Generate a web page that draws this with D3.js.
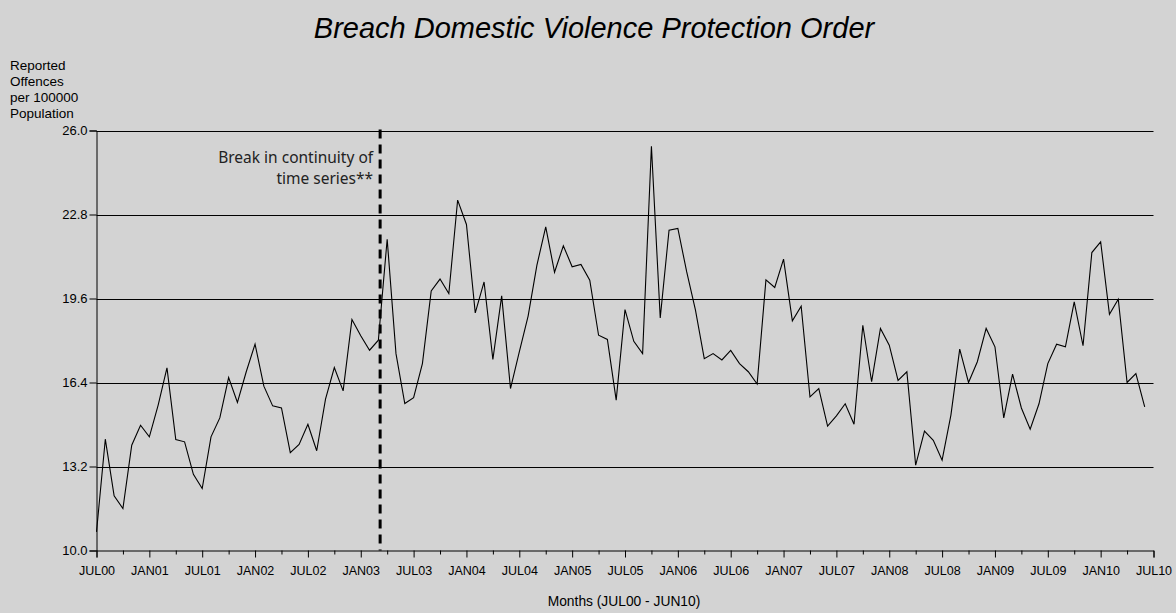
<!DOCTYPE html>
<html>
<head>
<meta charset="utf-8">
<script src="https://cdn.jsdelivr.net/npm/d3@7"></script>
<style>
  html, body { margin: 0; padding: 0; background: #d3d3d3; }
  svg { display: block; }
</style>
</head>
<body>
<svg id="chart" width="1176" height="613"></svg>
<script>
// ---- Data ----
const title = "Breach Domestic Violence Protection Order";
const yAxisTitle = ["Reported", "Offences", "per 100000", "Population"];
const xAxisTitle = "Months (JUL00 - JUN10)";
const breakLabel = ["Break in continuity of", "time series**"];

// Monthly values, JUL00 .. JUN10 (120 months)
const values = [
  10.71, 14.24, 12.08, 11.60, 14.01, 14.77, 14.33, 15.54, 16.96, 14.23, 14.14, 12.90,
  12.36, 14.33, 15.05, 16.59, 15.64, 16.81, 17.86, 16.26, 15.51, 15.43, 13.73, 14.04,
  14.81, 13.80, 15.77, 16.97, 16.08, 18.80, 18.18, 17.63, 18.01, 21.86, 17.50, 15.60,
  15.82, 17.12, 19.89, 20.34, 19.79, 23.35, 22.42, 19.05, 20.23, 17.28, 19.70, 16.17,
  17.57, 18.93, 20.87, 22.33, 20.60, 21.61, 20.81, 20.90, 20.30, 18.20, 18.04, 15.73,
  19.18, 17.97, 17.50, 25.40, 18.86, 22.20, 22.27, 20.62, 19.16, 17.31, 17.50, 17.26,
  17.62, 17.12, 16.81, 16.34, 20.31, 20.02, 21.10, 18.75, 19.31, 15.85, 16.17, 14.74,
  15.13, 15.59, 14.81, 18.58, 16.43, 18.46, 17.82, 16.48, 16.81, 13.25, 14.55, 14.20,
  13.44, 15.16, 17.67, 16.40, 17.19, 18.46, 17.76, 15.05, 16.72, 15.43, 14.62, 15.59,
  17.12, 17.86, 17.76, 19.47, 17.80, 21.35, 21.76, 19.00, 19.57, 16.40, 16.74, 15.47
];

const yTicks = [10.0, 13.2, 16.4, 19.6, 22.8, 26.0];
const xTickLabels = ["JUL00","JAN01","JUL01","JAN02","JUL02","JAN03","JUL03","JAN04","JUL04","JAN05",
                     "JUL05","JAN06","JUL06","JAN07","JUL07","JAN08","JUL08","JAN09","JUL09","JAN10","JUL10"];
const breakMonth = 32.2; // between MAR03 and APR03

// ---- Layout ----
const svg = d3.select("#chart");
const L = 96.5, R = 1153.5, T = 130.5, B = 550.5;
const nMonths = xTickLabels.length * 6 - 6; // 120

const x = d3.scaleLinear().domain([0, nMonths]).range([L, R]);
const y = d3.scaleLinear().domain([10, 26]).range([B, T]);

svg.append("rect").attr("width", 1176).attr("height", 613).attr("fill", "#d3d3d3");

const font = "'Liberation Sans', Arial, sans-serif";

// Title
svg.append("text")
  .attr("x", 594).attr("y", 38)
  .attr("text-anchor", "middle")
  .attr("font-family", font).attr("font-style", "italic")
  .attr("font-size", 29).attr("fill", "#000")
  .text(title);

// Y axis title
const yt = svg.append("text")
  .attr("font-family", font).attr("font-size", 13.5).attr("fill", "#000");
yAxisTitle.forEach((s, i) => {
  yt.append("tspan").attr("x", 10).attr("y", 70 + i * 16).text(s);
});

// Gridlines
svg.append("g").selectAll("line")
  .data(yTicks.filter(v => v > 10))
  .join("line")
  .attr("x1", L).attr("x2", R)
  .attr("y1", d => Math.round(y(d)) + 0.5).attr("y2", d => Math.round(y(d)) + 0.5)
  .attr("stroke", "#000").attr("stroke-width", 1);

// Y axis
const yAxis = d3.axisLeft(y).tickValues(yTicks).tickSize(7).tickPadding(2)
  .tickFormat(d3.format(".1f"));
const gy = svg.append("g").attr("transform", `translate(${L},0)`).call(yAxis);
gy.select(".domain").attr("stroke", "#000");
gy.selectAll(".tick line").attr("stroke", "#000");
gy.selectAll(".tick text").attr("font-family", font).attr("font-size", 13).attr("fill", "#000");

// X axis: minor ticks every 3 months, major every 6 with labels
const minorTicks = d3.range(0, nMonths + 1, 3).filter(i => i % 6 !== 0);
const majorTicks = d3.range(0, nMonths + 1, 6);
const gxMinor = svg.append("g").attr("transform", `translate(0,${B})`)
  .call(d3.axisBottom(x).tickValues(minorTicks).tickSize(4).tickFormat(""));
gxMinor.select(".domain").remove();
gxMinor.selectAll(".tick line").attr("stroke", "#000");

const gx = svg.append("g").attr("transform", `translate(0,${B})`)
  .call(d3.axisBottom(x).tickValues(majorTicks).tickSize(7).tickPadding(9)
    .tickFormat((d, i) => xTickLabels[i]));
gx.select(".domain").attr("stroke", "#000");
gx.selectAll(".tick line").attr("stroke", "#000");
gx.selectAll(".tick text").attr("font-family", font).attr("font-size", 12.5).attr("fill", "#000");

// X axis title
svg.append("text")
  .attr("x", 624).attr("y", 606)
  .attr("text-anchor", "middle")
  .attr("font-family", font).attr("font-size", 13.8).attr("fill", "#000")
  .text(xAxisTitle);

// Break line
svg.append("line")
  .attr("x1", x(breakMonth)).attr("x2", x(breakMonth))
  .attr("y1", T - 1).attr("y2", B)
  .attr("stroke", "#000").attr("stroke-width", 3)
  .attr("stroke-dasharray", "9,6");

const bt = svg.append("text")
  .attr("text-anchor", "end")
  .attr("font-family", "'Noto Sans', 'Open Sans', sans-serif")
  .attr("font-size", 15.5).attr("fill", "#222");
breakLabel.forEach((s, i) => {
  bt.append("tspan").attr("x", x(breakMonth) - 7).attr("y", 163 + i * 21).text(s);
});

// Series line
const line = d3.line()
  .x((d, i) => x(i))
  .y(d => y(d));
svg.append("path")
  .datum(values)
  .attr("d", line)
  .attr("fill", "none")
  .attr("stroke", "#000")
  .attr("stroke-width", 1.1)
  .attr("stroke-linejoin", "miter");
</script>
</body>
</html>
